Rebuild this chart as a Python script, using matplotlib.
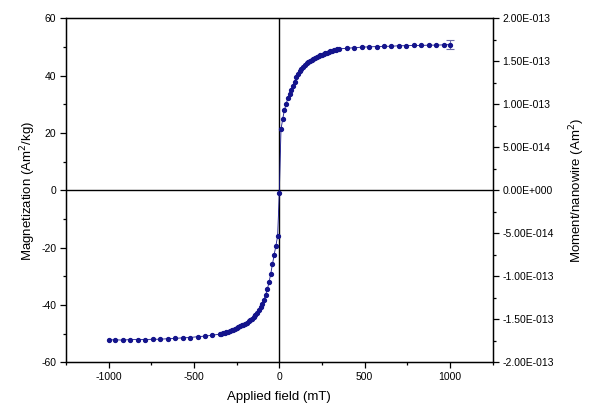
import matplotlib
matplotlib.use("Agg")
import matplotlib.pyplot as plt
from matplotlib.ticker import MultipleLocator, FuncFormatter

plt.rcParams['font.family'] = ['Liberation Sans', 'DejaVu Sans']
plt.rcParams['axes.unicode_minus'] = False

# Applied field (mT)
field = [-1000, -961, -918, -873, -828, -785, -740, -697, -652, -610, -565, -522, -479, -434, -392, -347,
         -340, -330, -320, -310, -300, -290, -280, -270, -260, -250, -240, -230, -220, -210, -200,
         -190, -180, -170, -160, -150, -140, -130, -120, -110, -100, -90, -80, -70, -60, -50,
         -40, -30, -20, -10, 0,
         10, 20, 30, 40, 50, 60, 70, 80, 90, 100, 110, 120, 130, 140, 150, 160, 170, 180, 190, 200,
         210, 220, 230, 240, 250, 260, 270, 280, 290, 300, 310, 320, 330, 340,
         351, 394, 439, 482, 526, 570, 614, 657, 702, 745, 788, 833, 876, 921, 963, 1000]

# Magnetization (Am^2/kg)
magnet = [-52.1, -52.1, -52.2, -52.0, -52.0, -52.0, -51.9, -51.9, -51.7, -51.6, -51.4, -51.3, -51.0, -50.8, -50.5, -50.1,
          -50.0, -49.8, -49.6, -49.4, -49.2, -49.0, -48.8, -48.6, -48.3, -48.0, -47.7, -47.4, -47.1, -46.8, -46.5,
          -46.1, -45.7, -45.3, -44.8, -44.2, -43.5, -42.7, -41.8, -40.7, -39.5, -38.1, -36.4, -34.4, -32.0, -29.0,
          -25.7, -22.4, -19.3, -16.0, -0.8,
          21.3, 25.0, 28.0, 30.2, 32.1, 33.7, 35.1, 36.5, 38.0, 39.6, 40.7, 41.6, 42.4, 43.1, 43.7, 44.3, 44.8, 45.2, 45.6, 46.0,
          46.3, 46.6, 46.9, 47.2, 47.4, 47.7, 47.9, 48.1, 48.3, 48.5, 48.7, 48.9, 49.0, 49.2,
          49.4, 49.6, 49.8, 50.0, 50.1, 50.2, 50.3, 50.3, 50.5, 50.5, 50.6, 50.6, 50.7, 50.7, 50.8, 50.9]

# error bar on the last point
err_field = [1000]
err_magnet = [50.9]
err_size = [1.5]

x_ticks = [-1000, -500, 0, 500, 1000]
y_ticks = [-60, -40, -20, 0, 20, 40, 60]
right_ticks = [-2e-13, -1.5e-13, -1e-13, -5e-14, 0, 5e-14, 1e-13, 1.5e-13, 2e-13]

color = '#14148c'

fig = plt.figure(figsize=(6.0, 4.2), dpi=100)
ax = fig.add_axes([0.110, 0.137, 0.711, 0.819])

ax.axhline(0, color='black', lw=1.0, zorder=1)
ax.axvline(0, color='black', lw=1.0, zorder=1)

ax.plot(field, magnet, '-', color=color, lw=0.6, zorder=2)
ax.plot(field, magnet, 'o', color=color, ms=2.8, mec=color, zorder=3)
ax.errorbar(err_field, err_magnet, yerr=err_size, fmt='none', ecolor='#6a6aa8',
            elinewidth=0.8, capsize=3, capthick=0.8, zorder=2)

ax.set_xlim(-1250, 1250)
ax.set_ylim(-60, 60)
ax.set_xticks(x_ticks)
ax.set_yticks(y_ticks)
ax.xaxis.set_minor_locator(MultipleLocator(250))
ax.yaxis.set_minor_locator(MultipleLocator(10))
ax.tick_params(which='major', direction='out', length=4, width=0.9, labelsize=7.5, pad=3)
ax.tick_params(which='minor', direction='out', length=2.2, width=0.9)
for s in ax.spines.values():
    s.set_linewidth(1.0)

ax.set_xlabel('Applied field (mT)', fontsize=9.5, labelpad=6)
ax.set_ylabel('Magnetization (Am$^2$/kg)', fontsize=9.5, labelpad=2)

ax2 = ax.twinx()
ax2.set_ylim(-2e-13, 2e-13)
ax2.set_yticks(right_ticks)
ax2.yaxis.set_minor_locator(MultipleLocator(2.5e-14))

def sci3(v, pos):
    if abs(v) < 1e-20:
        return '0.00E+000'
    s = f'{v:.2E}'
    mant, exp = s.split('E')
    sign = exp[0]
    num = int(exp[1:])
    return f'{mant}E{sign}{num:03d}'

ax2.yaxis.set_major_formatter(FuncFormatter(sci3))
ax2.tick_params(which='major', direction='out', length=4, width=0.9, labelsize=7.5, pad=3)
ax2.tick_params(which='minor', direction='out', length=2.2, width=0.9)
ax2.set_ylabel('Moment/nanowire (Am$^2$)', fontsize=9.5, labelpad=10)

fig.savefig('out.png', dpi=100)
